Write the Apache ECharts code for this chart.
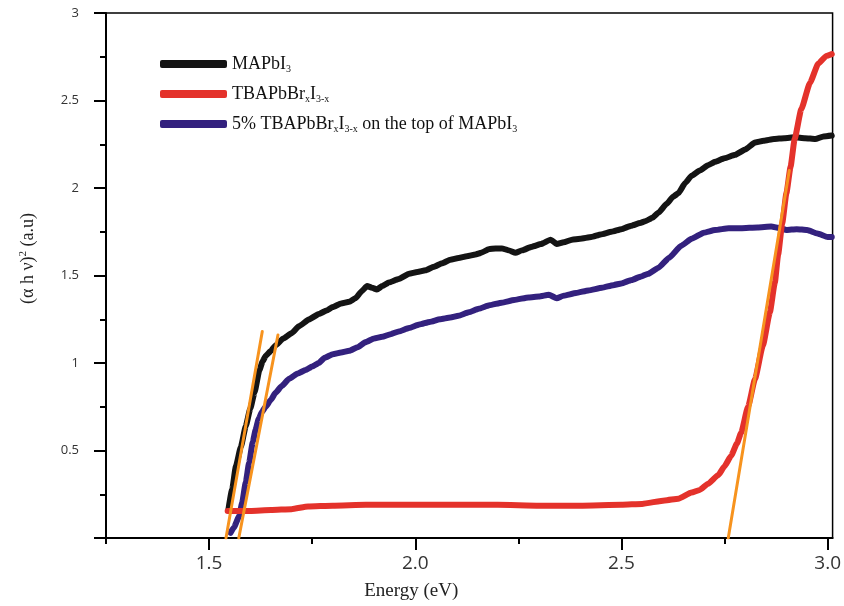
<!DOCTYPE html>
<html>
<head>
<meta charset="utf-8">
<script src="https://cdn.jsdelivr.net/npm/echarts@6/dist/echarts.min.js"></script>
<style>
html,body{margin:0;padding:0;background:#fff;}
#chart{width:844px;height:606px;}
</style>
</head>
<body>
<div id="chart"></div>
<script>
// ---- data ----
const xMajorTicks = [1.5, 2.0, 2.5, 3.0];
const xMinorTicks = [1.25, 1.75, 2.25, 2.75];

const mapE = [1.547,1.556,1.565,1.577,1.589,1.600,1.610,1.622,1.630,1.637,1.650,1.661,1.680,1.700,1.718,1.743,1.766,1.785,1.800,1.820,1.840,1.855,1.870,1.883,1.895,1.907,1.920,1.936,1.960,1.985,2.005,2.025,2.045,2.065,2.085,2.105,2.125,2.146,2.160,2.178,2.195,2.210,2.225,2.243,2.260,2.283,2.305,2.328,2.343,2.360,2.380,2.400,2.427,2.450,2.476,2.500,2.524,2.545,2.558,2.575,2.590,2.610,2.625,2.638,2.655,2.670,2.690,2.710,2.727,2.750,2.776,2.800,2.824,2.845,2.870,2.895,2.920,2.945,2.970,2.990,3.010];
const mapV = [0.165,0.28,0.41,0.52,0.64,0.74,0.83,0.96,1.01,1.04,1.07,1.10,1.14,1.17,1.21,1.25,1.28,1.30,1.32,1.34,1.35,1.37,1.41,1.44,1.43,1.42,1.44,1.46,1.48,1.51,1.52,1.53,1.55,1.57,1.59,1.60,1.61,1.62,1.63,1.65,1.655,1.655,1.645,1.63,1.645,1.665,1.68,1.705,1.68,1.69,1.705,1.71,1.72,1.735,1.75,1.765,1.785,1.80,1.81,1.83,1.86,1.91,1.95,1.97,2.03,2.07,2.10,2.13,2.15,2.17,2.19,2.22,2.26,2.27,2.28,2.285,2.29,2.285,2.28,2.295,2.30];

const tbaE = [1.545,1.600,1.650,1.700,1.740,1.800,1.880,2.000,2.100,2.200,2.300,2.400,2.500,2.550,2.605,2.638,2.670,2.690,2.710,2.735,2.750,2.766,2.780,2.790,2.807,2.824,2.843,2.860,2.872,2.880,2.890,2.900,2.910,2.920,2.936,2.957,2.977,2.997,3.010];
const tbaV = [0.155,0.155,0.16,0.165,0.18,0.185,0.19,0.19,0.19,0.19,0.185,0.185,0.19,0.195,0.215,0.225,0.26,0.275,0.31,0.36,0.41,0.47,0.54,0.60,0.75,0.91,1.10,1.29,1.46,1.62,1.80,1.97,2.12,2.28,2.45,2.60,2.71,2.755,2.765];

const mixE = [1.552,1.560,1.573,1.580,1.589,1.597,1.606,1.613,1.620,1.628,1.637,1.650,1.661,1.677,1.694,1.715,1.734,1.750,1.766,1.780,1.800,1.820,1.840,1.860,1.880,1.900,1.920,1.940,1.960,1.985,2.010,2.035,2.060,2.085,2.105,2.130,2.154,2.180,2.210,2.240,2.275,2.300,2.324,2.343,2.360,2.390,2.420,2.453,2.480,2.500,2.525,2.548,2.565,2.590,2.615,2.645,2.670,2.700,2.727,2.760,2.790,2.830,2.863,2.885,2.900,2.925,2.950,2.975,3.000,3.010];
const mixV = [0.03,0.06,0.125,0.20,0.32,0.43,0.55,0.62,0.68,0.72,0.75,0.79,0.83,0.87,0.91,0.94,0.96,0.98,1.00,1.03,1.05,1.06,1.07,1.09,1.12,1.14,1.15,1.165,1.18,1.20,1.22,1.235,1.25,1.26,1.27,1.29,1.31,1.33,1.345,1.36,1.375,1.38,1.39,1.37,1.385,1.40,1.415,1.43,1.445,1.455,1.475,1.495,1.51,1.545,1.60,1.67,1.71,1.745,1.76,1.77,1.77,1.775,1.78,1.77,1.76,1.765,1.76,1.74,1.72,1.72];

// tangent (band-gap extrapolation) lines
const tan1E = [1.541, 1.629], tan1V = [0.0, 1.18];
const tan2E = [1.572, 1.667], tan2V = [0.0, 1.16];
const tan3E = [2.759, 2.907], tan3V = [0.0, 2.10];

const names = ['MAPbI3', 'TBAPbBrxI3-x', '5% TBAPbBrxI3-x on the top of MAPbI3'];
const richNames = {
  'MAPbI3': '{n|MAPbI}{s|3}',
  'TBAPbBrxI3-x': '{n|TBAPbBr}{s|x}{n|I}{s|3-x}',
  '5% TBAPbBrxI3-x on the top of MAPbI3': '{n|5% TBAPbBr}{s|x}{n|I}{s|3-x}{n| on the top of MAPbI}{s|3}'
};

const zip = (a, b) => a.map((v, i) => [v, b[i]]);
const serif = "'Liberation Serif','DejaVu Serif',serif";
const sans = "'Open Sans','Noto Sans',sans-serif";

const chart = echarts.init(document.getElementById('chart'), null, {renderer: 'canvas'});

function curve(name, e, v, color, z) {
  return {
    name, type: 'line', data: zip(e, v), symbol: 'none', showSymbol: false,
    smooth: 0.15, smoothMonotone: 'x', z,
    lineStyle: {color, width: 6, cap: 'round', join: 'round'},
    itemStyle: {color},
    emphasis: {disabled: true}, silent: true
  };
}
function tangent(e, v) {
  return {
    type: 'line', data: zip(e, v), symbol: 'none', showSymbol: false, z: 10,
    lineStyle: {color: '#F7931E', width: 3, cap: 'round'},
    emphasis: {disabled: true}, silent: true
  };
}

chart.setOption({
  animation: false,
  backgroundColor: '#ffffff',
  grid: {left: 106, right: 10, top: 13, bottom: 67, show: true, borderColor: '#000', borderWidth: 1.5, containLabel: false},
  legend: {
    data: names, orient: 'vertical', left: 155, top: 50, itemGap: 11,
    itemWidth: 67, itemHeight: 8, icon: 'roundRect',
    formatter: n => richNames[n],
    textStyle: {
      rich: {
        n: {fontFamily: serif, fontSize: 18, color: '#111', lineHeight: 20},
        s: {fontFamily: serif, fontSize: 10, color: '#111', lineHeight: 8, verticalAlign: 'bottom'}
      }
    },
    selectedMode: false
  },
  xAxis: [{
    type: 'value', min: 1.25, max: 3.012, position: 'bottom',
    axisLine: {show: true, onZero: false, lineStyle: {color: '#000', width: 2}},
    axisTick: {show: true, customValues: xMajorTicks, length: 12, lineStyle: {color: '#000', width: 2}},
    axisLabel: {show: true, customValues: xMajorTicks, formatter: v => v.toFixed(1), fontFamily: sans, fontSize: 19, color: '#333', margin: 16},
    splitLine: {show: false},
    name: 'Energy (eV)', nameLocation: 'middle', nameGap: 44,
    nameTextStyle: {fontFamily: serif, fontSize: 19, color: '#222', padding: [0, 116, 0, 0]}
  }, {
    type: 'value', min: 1.25, max: 3.012, position: 'bottom', gridIndex: 0,
    axisLine: {show: false, onZero: false},
    axisTick: {show: true, customValues: xMinorTicks, length: 6, lineStyle: {color: '#000', width: 2}},
    axisLabel: {show: false},
    splitLine: {show: false}
  }],
  yAxis: {
    type: 'value', min: 0, max: 3, interval: 0.5,
    axisLine: {show: true, onZero: false, lineStyle: {color: '#000', width: 2}},
    axisTick: {show: true, length: 12, lineStyle: {color: '#000', width: 2}},
    minorTick: {show: true, splitNumber: 2, length: 6, lineStyle: {color: '#000', width: 2}},
    axisLabel: {formatter: v => v === 0 ? '' : String(v), fontFamily: sans, fontSize: 13, color: '#333', margin: 27},
    splitLine: {show: false}, minorSplitLine: {show: false},
    name: '{a|(α h ν)}{b|2}{a| (a.u)}', nameLocation: 'middle', nameGap: 68,
    nameTextStyle: {
      padding: [0, 0, 0, 34],
      rich: {
        a: {fontFamily: serif, fontSize: 18, color: '#222', lineHeight: 20},
        b: {fontFamily: serif, fontSize: 11, color: '#222', lineHeight: 10, verticalAlign: 'top'}
      }
    }
  },
  series: [
    curve('MAPbI3', mapE, mapV, '#141414', 2),
    curve('5% TBAPbBrxI3-x on the top of MAPbI3', mixE, mixV, '#33217E', 3),
    curve('TBAPbBrxI3-x', tbaE, tbaV, '#E4322B', 4),
    tangent(tan1E, tan1V),
    tangent(tan2E, tan2V),
    tangent(tan3E, tan3V)
  ]
});
</script>
</body>
</html>
